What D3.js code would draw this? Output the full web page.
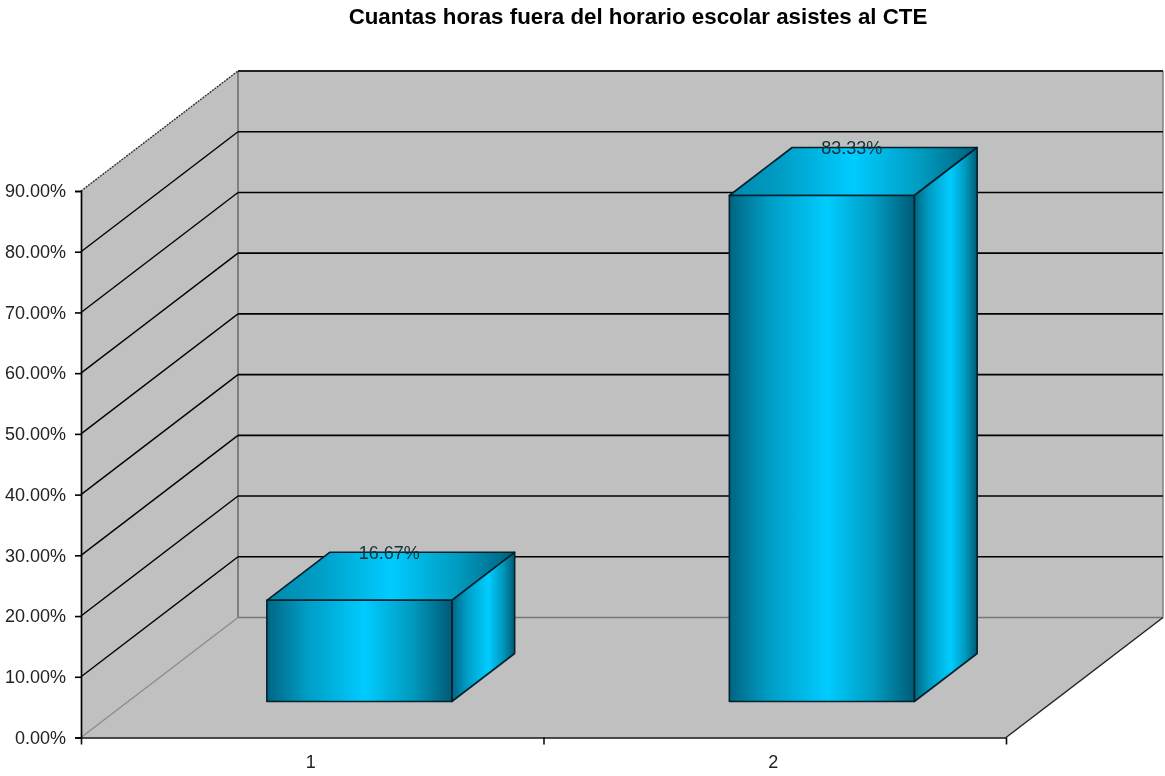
<!DOCTYPE html>
<html><head><meta charset="utf-8">
<script src="https://cdnjs.cloudflare.com/ajax/libs/d3/7.8.5/d3.min.js"></script>
<style>html,body{margin:0;padding:0;background:#fff}svg{display:block}text{font-family:"Liberation Sans",Arial,sans-serif}</style>
</head><body><svg id="c" width="1165" height="776"></svg>
<script>
const titleText = "Cuantas horas fuera del horario escolar asistes al CTE";
const categories = ["1", "2"];
const values = [16.67, 83.33];
const tickValues = [0, 10, 20, 30, 40, 50, 60, 70, 80, 90];

const svg = d3.select("#c");
const x = d3.scaleBand().domain(categories).range([81, 1006]).paddingInner(0).paddingOuter(0);
const y = d3.scaleLinear().domain([0, 90]).range([737.5, 191]);
const depthX = 157, depthY = 120;
const P = (px, v, z) => [px + z * depthX, y(v) - z * depthY];
const barW = x.bandwidth() / 2.5;
const z0 = 0.3, z1 = 0.7;
const poly = pts => pts.map(p => p.join(",")).join(" ");
const fmt = v => v.toFixed(2) + "%";

const defs = svg.append("defs");
[["gFront", 0.53, "#006583", "#005a76"], ["gTop", 0.5, "#0088ab", "#005f7c"], ["gSide", 0.58, "#006583", "#005a76"]].forEach(([id, peak, c0, c1]) => {
  const g = defs.append("linearGradient").attr("id", id).attr("x1", 0).attr("x2", 1).attr("y1", 0).attr("y2", 0);
  g.append("stop").attr("offset", 0).attr("stop-color", c0);
  g.append("stop").attr("offset", peak * 0.4).attr("stop-color", "#009cc4");
  g.append("stop").attr("offset", peak).attr("stop-color", "#00ccff");
  g.append("stop").attr("offset", peak + (1 - peak) * 0.55).attr("stop-color", "#009abf");
  g.append("stop").attr("offset", 1).attr("stop-color", c1);
});
const soft = defs.append("filter").attr("id", "soft").attr("filterUnits", "userSpaceOnUse")
  .attr("x", 0).attr("y", 0).attr("width", 1165).attr("height", 776);
soft.append("feGaussianBlur").attr("stdDeviation", 0.4);

const x0 = x.range()[0], x1 = x.range()[1];
const root = svg.append("g");

// walls and floor
root.append("polygon").attr("points", poly([P(x0, 90, 0), P(x0, 90, 1), P(x1, 90, 1), P(x1, 0, 1), P(x0, 0, 1), P(x0, 0, 0)])).attr("fill", "#c0c0c0");
root.append("polygon").attr("points", poly([P(x0, 0, 0), P(x1, 0, 0), P(x1, 0, 1), P(x0, 0, 1)])).attr("fill", "#c0c0c0");

const line = (a, b, col, w) => root.append("line")
  .attr("x1", a[0]).attr("y1", a[1]).attr("x2", b[0]).attr("y2", b[1])
  .attr("stroke", col).attr("stroke-width", w);

// wall structure
line(P(x0, 90, 1), P(x0, 0, 1), "#6e6e6e", 1.6);
line(P(x1, 90, 1), P(x1, 0, 1), "#808080", 1.5);
line(P(x0, 0, 1), P(x1, 0, 1), "#777", 1.6);
line(P(x0, 0, 0), P(x0, 0, 1), "#8a8a8a", 1.3);
line(P(x1, 0, 0), P(x1, 0, 1), "#222", 1.4);

// gridlines
root.append("g").selectAll("g").data(tickValues.filter(v => v > 0)).join("g").each(function (v) {
  const g = d3.select(this);
  const a = P(x0, v, 0), b = P(x0, v, 1), c = P(x1, v, 1);
  g.append("line").attr("x1", a[0]).attr("y1", a[1]).attr("x2", b[0]).attr("y2", b[1])
    .attr("stroke", v === 90 ? "#333" : "#000").attr("stroke-width", 1.4).attr("stroke-dasharray", v === 90 ? "2 1" : null);
  g.append("line").attr("x1", b[0]).attr("y1", b[1]).attr("x2", c[0]).attr("y2", c[1])
    .attr("stroke", v === 90 ? "#222" : "#000").attr("stroke-width", v === 90 ? 1.8 : 1.6);
});

// axes
const yAxis = d3.axisLeft(y).tickValues(tickValues).tickFormat(fmt).tickSize(6).tickPadding(9);
const gy = root.append("g").attr("transform", `translate(${x0},0)`).call(yAxis);
gy.select(".domain").attr("stroke", "#000").attr("stroke-width", 1.7);
gy.selectAll(".tick line").attr("stroke", "#000").attr("stroke-width", 1.6);
gy.selectAll("text").attr("font-size", 18).attr("fill", "#222").attr("font-family", null);

const xTick = d3.scaleLinear().domain([0, categories.length]).range([x0, x1]);
const xAxis = d3.axisBottom(xTick).tickValues(d3.range(categories.length + 1)).tickFormat("").tickSize(7).tickSizeOuter(0);
const gx = root.append("g").attr("transform", `translate(0,${y(0)})`).call(xAxis);
gx.select(".domain").attr("stroke", "#111").attr("stroke-width", 1.7);
gx.selectAll(".tick line").attr("stroke", "#111").attr("stroke-width", 1.6);
root.append("g").selectAll("text").data(categories).join("text")
  .attr("x", d => x(d) + x.bandwidth() / 2 - 1.5).attr("y", 768)
  .attr("text-anchor", "middle").attr("font-size", 18).attr("fill", "#222").text(d => d);

// bars
const bars = root.append("g").selectAll("g").data(categories.map((c, i) => ({ c, v: values[i] }))).join("g");
bars.each(function (d) {
  const g = d3.select(this);
  const l = x(d.c) + (x.bandwidth() - barW) / 2, r = l + barW;
  const st = s => s.attr("stroke", "#03202a").attr("stroke-width", 1.6).attr("stroke-linejoin", "round");
  g.append("polygon").attr("points", poly([P(l, d.v, z0), P(l, d.v, z1), P(r, d.v, z1), P(r, d.v, z0)])).attr("fill", "url(#gTop)").call(st);
  g.append("polygon").attr("points", poly([P(r, 0, z0), P(r, d.v, z0), P(r, d.v, z1), P(r, 0, z1)])).attr("fill", "url(#gSide)").call(st);
  g.append("polygon").attr("points", poly([P(l, 0, z0), P(l, d.v, z0), P(r, d.v, z0), P(r, 0, z0)])).attr("fill", "url(#gFront)").call(st);
  const cx = P((l + r) / 2, d.v, 0.5)[0] - 1.5;
  g.append("text").attr("x", cx).attr("y", P(l, d.v, z1)[1] + 6.5).attr("text-anchor", "middle")
    .attr("font-size", 18).attr("fill", "#14303a").text(fmt(d.v));
});

// title
root.append("text").attr("x", 638).attr("y", 24).attr("text-anchor", "middle")
  .attr("font-size", 22.3).attr("font-weight", "bold").attr("fill", "#000").text(titleText);

root.attr("filter", "url(#soft)");
</script></body></html>
